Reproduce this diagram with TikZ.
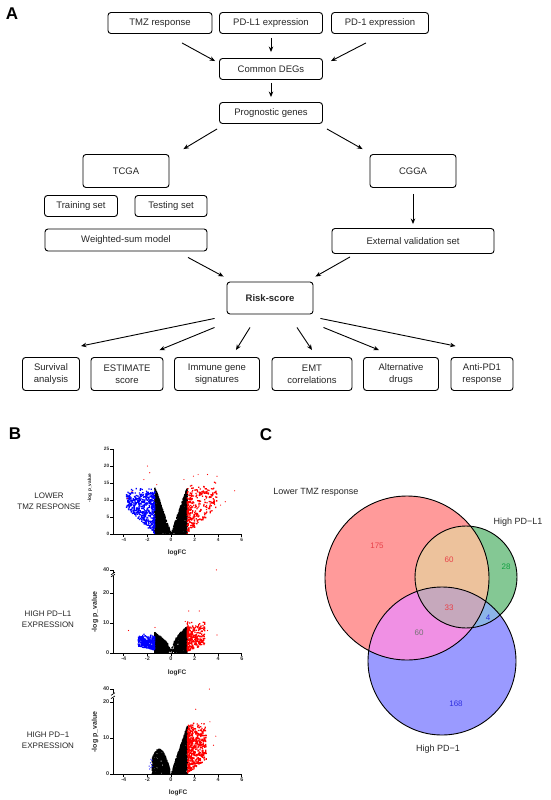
\documentclass[tikz,border=0pt]{standalone}
\usepackage{fontspec}
\setmainfont{Liberation Sans}
\usetikzlibrary{calc,arrows.meta}

\definecolor{vred}{HTML}{FF9A9A}
\definecolor{vgreen}{HTML}{84C894}
\definecolor{vblue}{HTML}{9A9AFF}
\definecolor{vrg}{HTML}{EDC29C}
\definecolor{vrb}{HTML}{F090E4}
\definecolor{vgb}{HTML}{8CB4E8}
\definecolor{vrgb}{HTML}{C6A8BC}
\definecolor{nred}{HTML}{E84048}
\definecolor{ngreen}{HTML}{10A040}
\definecolor{nblue}{HTML}{3030E0}

% scatter of random points in one path: count, colour, x expression, y expression
\newcommand{\spots}[4]{\fill[#2] \foreach \k in {1,...,#1}{\pgfextra{\pgfmathsetmacro\vx{#3}\pgfmathsetmacro\vy{#4}}
    (\vx,\vy) ++(-0.65pt,-0.65pt) rectangle ++(1.3pt,1.3pt)};}

\begin{document}
\begin{tikzpicture}[x=1pt,y=-1pt, >={Stealth[length=5.5pt,width=4.5pt]},
    box/.style={draw, rounded corners=3pt, line width=0.9pt, inner sep=1pt,
            font=\fontsize{9.5}{12}\selectfont, align=center, text=black!85},
    wh/.style 2 args={minimum width=#1pt, minimum height=#2pt},
    arr/.style={->, line width=0.9pt},
    panel/.style={font=\fontsize{17}{17}\selectfont\bfseries},
    side/.style={font=\fontsize{8}{11}\selectfont, align=center, text=black!85},
    axis/.style={line width=0.7pt},
    tickA/.style={font=\fontsize{4.8}{5}\selectfont\bfseries, text=black!80, inner sep=0.5pt},
    tickB/.style={font=\fontsize{5.5}{6}\selectfont\bfseries, text=black!80, inner sep=0.5pt},
    ttl/.style={font=\fontsize{6.5}{7}\selectfont\bfseries, text=black!85, inner sep=0pt},
    vlab/.style={font=\fontsize{9}{10}\selectfont, text=black!85},
    num/.style={font=\fontsize{8}{9}\selectfont}]

\useasboundingbox (0,0) rectangle (550,800);

% ---- A: workflow
\node[panel] (A) at (12,14) {A};
\node[box, wh={104}{21}] (tmz) at (160,23) {TMZ response};
\node[box, wh={103}{21}] (pdl1) at (271,23) {PD-L1 expression};
\node[box, wh={97}{21}] (pd1) at (380,23) {PD-1 expression};
\node[box, wh={103}{21}] (deg) at (271,69) {Common DEGs};
\node[box, wh={103}{21}] (prog) at (271,113) {Prognostic genes};
\node[box, wh={86}{33}] (tcga) at (126,171) {TCGA};
\node[box, wh={86}{33}] (cgga) at (413,171) {CGGA};
\node[box, wh={73}{21}] (train) at (81,206) {Training set};
\node[box, wh={72}{21}] (test) at (171,206) {Testing set};
\node[box, wh={162}{22}] (wsum) at (126,240) {Weighted-sum model};
\node[box, wh={162}{25}] (extval) at (413,241) {External validation set};
\node[box, wh={86}{32}, font=\fontsize{9.5}{12}\selectfont\bfseries] (risk) at (270,298) {Risk-score};
\node[box, wh={57}{33}] (surv) at (51,374) {Survival\\analysis};
\node[box, wh={72}{33}] (estim) at (127,374) {ESTIMATE\\score};
\node[box, wh={85}{33}] (immune) at (217,374) {Immune gene\\signatures};
\node[box, wh={80}{33}] (emt) at (312,374) {EMT\\correlations};
\node[box, wh={75}{33}] (drugs) at (401,374) {Alternative\\drugs};
\node[box, wh={62}{33}] (antipd) at (482,374) {Anti-PD1\\response};

\draw[arr] ($(tmz.south)+(22,9)$) -- ($(deg.north west)+(-4,3)$);
\draw[arr, shorten <=4pt, shorten >=6pt] (pdl1) -- (deg);
\draw[arr] ($(pd1.south)+(-14,9)$) -- ($(deg.north east)+(8,3)$);
\draw[arr, shorten <=3pt, shorten >=5pt] (deg) -- (prog);
\draw[arr] ($(prog.south west)+(-2,5)$) -- ($(tcga.north east)+(14,-5)$);
\draw[arr] ($(prog.south east)+(4,5)$) -- ($(cgga.north west)+(-7,-5)$);
\draw[arr, shorten <=6pt, shorten >=4pt] (cgga) -- (extval);
\draw[arr] ($(wsum.south)+(62,6)$) -- ($(risk.north west)+(-3,-5)$);
\draw[arr] ($(extval.south)+(-63,3)$) -- ($(risk.north east)+(2,-5)$);
\draw[arr] ($(risk.south west)+(-12,4)$) -- ($(surv.north east)+(1,-11)$);
\draw[arr] ($(risk.south west)+(-12,13)$) -- ($(estim.north east)+(-4,-7)$);
\draw[arr] ($(risk.south)+(-20,13)$) -- ($(immune.north east)+(-24,-7)$);
\draw[arr] ($(risk.south)+(27,13)$) -- ($(emt.north)+(0,-7)$);
\draw[arr] ($(risk.south east)+(10,13)$) -- ($(drugs.north west)+(16,-7)$);
\draw[arr] ($(risk.south east)+(7,4)$) -- ($(antipd.north west)+(5,-11)$);

% ---- B: volcano plots
\node[panel] (B) at (15,434) {B};
\node[side] (lab1) at (49,501) {LOWER\\TMZ RESPONSE};
\node[side] (lab2) at (48,619) {HIGH PD−L1\\EXPRESSION};
\node[side] (lab3) at (48,740) {HIGH PD−1\\EXPRESSION};

\pgfmathsetseed{7}
\begin{scope}[shift={(171,534)}, x=11.8pt, y=3.4pt]
  \spots{1100}{black}{-1.38*sqrt(rnd)}{rnd*10*abs(\vx)+0.3*rnd}
  \spots{1100}{black}{1.38*sqrt(rnd)}{rnd*10*\vx}
  \spots{500}{blue}{-1.38-2.4*rnd^1.6}{3.2*(abs(\vx)-1.38)+(11.5+2.5*rnd^2-3.2*(abs(\vx)-1.38))*rnd}
  \spots{320}{red}{1.38+2.5*rnd^1.8}{3*(\vx-1.38)+(12.5+3*rnd^2-3*(\vx-1.38))*rnd}
  \foreach \px/\py in {-2/20,-1.8/18,-2.3/16,-3.7/10.5,-3.3/12.5,-1.2/14.5,1.1/16,1.9/17,
      2.3/17.5,3.1/17.5,3.9/17,5.4/12.7,4.6/9.5,4.2/8.5,3.5/11.5}
    \fill[red] (\px,\py) circle[radius=0.6pt];
  \draw[axis] (-4.92,25) -- (-4.92,0) -- (6,0);
  \foreach \t in {0,5,...,25} {
    \draw[axis] (-4.92,\t) -- ++(-2.5pt,0pt);
    \node[tickA, anchor=east] at ([xshift=-3pt]-4.92,\t) {\t};}
  \foreach \t in {-4,-2,...,6} {
    \draw[axis] (\t,0) -- ++(0pt,-2.5pt);
    \node[tickA, below=3pt] at (\t,0) {\t};}
\end{scope}
\node[ttl] (lfc1) at (177,553) {logFC};
\node[ttl, rotate=90, font=\fontsize{4.8}{5}\selectfont\bfseries] (lp1) at (90,488) {-log p\_value};

\begin{scope}[shift={(171,653)}, x=11.8pt, y=3pt]
  \spots{850}{black}{-1.38*sqrt(rnd)}{rnd*6.8*sqrt(abs(\vx)/1.38)}
  \spots{850}{black}{1.38*sqrt(rnd)}{rnd*8.8*sqrt(\vx/1.38)}
  \spots{280}{blue}{-1.38-1.4*rnd^1.5}{1+0.9*(abs(\vx)-1.38)+(4.2+1.5*rnd^2-0.9*(abs(\vx)-1.38))*rnd}
  \spots{280}{red}{1.38+1.5*rnd^1.6}{0.5+1.6*(\vx-1.38)+(8+2*rnd^2-1.6*(\vx-1.38))*rnd^1.2}
  \foreach \px/\py in {1.5/14,2.4/14,3.9/6,3.1/7.5,-3.6/7.5,-1.35/8.5,1.2/10.5,3.85/27.7}
    \fill[red] (\px,\py) circle[radius=0.6pt];
  \draw[axis] (-4.92,25.6) -- (-4.92,0) -- (6,0);
  \draw[axis] (-4.92,26.7) -- (-4.92,27.7);
  \foreach \s in {25.8,26.5} \draw[axis] (-4.92,\s) ++(-2pt,-1.3pt) -- ++(4pt,2.6pt);
  \foreach \t/\v in {0/0,10/10,20/20,40/27.7} {
    \draw[axis] (-4.92,\v) -- ++(-2.5pt,0pt);
    \node[tickB, anchor=east] at ([xshift=-3pt]-4.92,\v) {\t};}
  \foreach \t in {-4,-2,...,6} {
    \draw[axis] (\t,0) -- ++(0pt,-2.5pt);
    \node[tickB, below=3pt] at (\t,0) {\t};}
\end{scope}
\node[ttl] (lfc2) at (177,673) {logFC};
\node[ttl, rotate=90, font=\fontsize{7}{7}\selectfont\bfseries] (lp2) at (95,612) {-log p\_value};

\begin{scope}[shift={(171,774)}, x=11.8pt, y=3.6pt]
  \spots{700}{black}{-0.1-1.5*rnd}{rnd*(6.5*sin(abs(\vx)*90)+0.5)}
  \spots{1100}{black}{1.4*sqrt(rnd)}{rnd*13.5*(\vx/1.4)}
  \spots{520}{red}{1.4+1.6*rnd^1.5}{2.5*(\vx-1.4)+(12.5+2*rnd^2-2.5*(\vx-1.4))*rnd}
  \foreach \px/\py in {-1.85/2.2,-1.75/3.1,-1.7/1.8,-1.65/2.6,-1.6/3.8,-1.8/1.4,-1.55/2.1,-1.7/4.1}
    \fill[blue] (\px,\py) circle[radius=0.6pt];
  \foreach \px/\py in {2.6/14,2.8/14,3.3/14.5,3.8/10.5,2.1/18,3.25/23.6,3.6/8,2.6/8}
    \fill[red] (\px,\py) circle[radius=0.6pt];
  \draw[axis] (-4.92,21) -- (-4.92,0) -- (6,0);
  \draw[axis] (-4.92,22.6) -- (-4.92,23.6);
  \foreach \s in {21.3,22.2} \draw[axis] (-4.92,\s) ++(-2pt,-1.3pt) -- ++(4pt,2.6pt);
  \foreach \t/\v in {0/0,10/10,20/20,40/23.6} {
    \draw[axis] (-4.92,\v) -- ++(-2.5pt,0pt);
    \node[tickB, anchor=east] at ([xshift=-3pt]-4.92,\v) {\t};}
  \foreach \t in {-4,-2,...,6} {
    \draw[axis] (\t,0) -- ++(0pt,-2.5pt);
    \node[tickB, below=3pt] at (\t,0) {\t};}
\end{scope}
\node[ttl] (lfc3) at (178,793) {logFC};
\node[ttl, rotate=90, font=\fontsize{7}{7}\selectfont\bfseries] (lp3) at (95,732) {-log p\_value};

% ---- C: Venn diagram
\node[panel] (C) at (266,435) {C};
\fill[vred] (407,578) circle[radius=82pt];
\fill[vgreen] (466,577) circle[radius=51pt];
\fill[vblue] (442,661) circle[radius=74pt];
\begin{scope}
  \clip (466,577) circle[radius=51pt];
  \fill[vgb] (442,661) circle[radius=74pt];
\end{scope}
\begin{scope}
  \clip (407,578) circle[radius=82pt];
  \fill[vrg] (466,577) circle[radius=51pt];
  \fill[vrb] (442,661) circle[radius=74pt];
  \clip (442,661) circle[radius=74pt];
  \fill[vrgb] (466,577) circle[radius=51pt];
\end{scope}
\draw[line width=0.9pt] (407,578) circle[radius=82pt];
\draw[line width=0.9pt] (466,577) circle[radius=51pt];
\draw[line width=0.9pt] (442,661) circle[radius=74pt];

\node[vlab] (ltmz) at (316,492) {Lower TMZ response};
\node[vlab] (hpdl1) at (518,522) {High PD−L1};
\node[vlab] (hpd1) at (438,749) {High PD−1};
\node[num, text=nred] (n175) at (377,546) {175};
\node[num, text=nred] (n60a) at (449,560) {60};
\node[num, text=ngreen] (n28) at (506,567) {28};
\node[num, text=nred] (n33) at (449,608) {33};
\node[num, text=nblue] (n4) at (488,618) {4};
\node[num, text=black!55] (n60b) at (419,633) {60};
\node[num, text=nblue] (n168) at (456,704) {168};
\end{tikzpicture}
\end{document}
